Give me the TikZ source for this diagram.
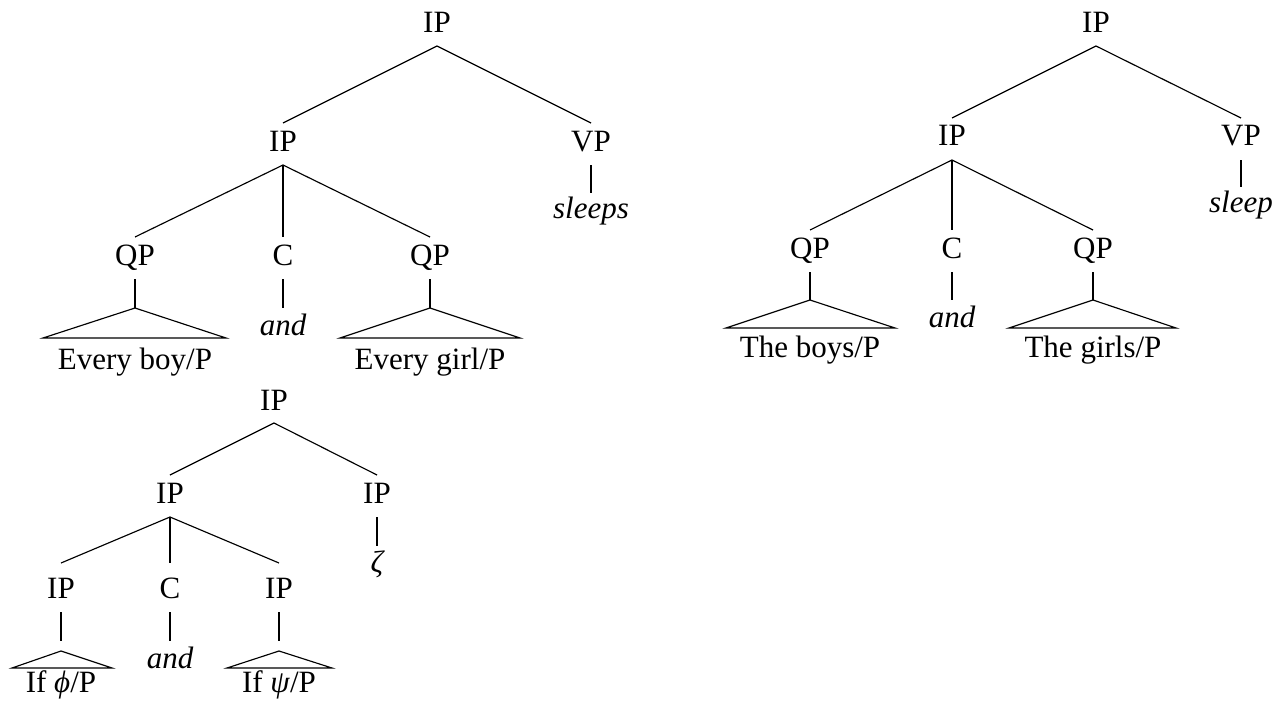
\documentclass[tikz,border=0pt]{standalone}
\usepackage{fontspec}
\setmainfont{Liberation Serif}
\begin{document}
\begin{tikzpicture}[x=1pt,y=-1pt,
  lab/.style={anchor=base,inner sep=0pt,font=\fontsize{31}{37}\selectfont},
  leaf/.style={lab,font=\fontsize{31}{37}\selectfont\itshape},
  br/.style={line width=1.15pt},
  tri/.style={line width=1.15pt,line join=miter}]
\useasboundingbox (0,0) rectangle (1282,704);

% ---------- coordination of quantified subjects ----------
\node[lab] (a0) at (437,32) {IP};
\node[lab] (a1) at (283,151) {IP};
\node[lab] (a2) at (591,151) {VP};
\node[leaf] (a3) at (591,218) {sleeps};
\node[lab] (a4) at (135,265) {QP};
\node[lab] (a5) at (283,265) {C};
\node[lab] (a6) at (430,265) {QP};
\node[leaf] (a7) at (283,335) {and};
\node[lab] (a8) at (135,369) {Every boy/P};
\node[lab] (a9) at (430,369) {Every girl/P};
\coordinate (a8t) at (135,308);
\coordinate (a9t) at (430,308);

\draw[br] ([yshift=-14pt]a0.base) -- ([yshift=28pt]a1.base);
\draw[br] ([yshift=-14pt]a0.base) -- ([yshift=28pt]a2.base);
\draw[br] ([yshift=-14pt]a2.base) -- ([yshift=25pt]a3.base);
\draw[br] ([yshift=-14pt]a1.base) -- ([yshift=28pt]a4.base);
\draw[br] ([yshift=-14pt]a1.base) -- ([yshift=28pt]a5.base);
\draw[br] ([yshift=-14pt]a1.base) -- ([yshift=28pt]a6.base);
\draw[br] ([yshift=-14pt]a5.base) -- ([yshift=27pt]a7.base);
\draw[br] ([yshift=-14pt]a4.base) -- (a8t);
\draw[br] ([yshift=-14pt]a6.base) -- (a9t);
\draw[tri] (a8t) -- (43,338) -- (226,338) -- cycle;
\draw[tri] (a9t) -- (340,338) -- (520,338) -- cycle;

% ---------- coordination of plural subjects ----------
\node[lab] (b0) at (1096,32) {IP};
\node[lab] (b1) at (952,145) {IP};
\node[lab] (b2) at (1241,145) {VP};
\node[leaf] (b3) at (1241,212) {sleep};
\node[lab] (b4) at (810,258) {QP};
\node[lab] (b5) at (952,258) {C};
\node[lab] (b6) at (1093,258) {QP};
\node[leaf] (b7) at (952,327) {and};
\node[lab] (b8) at (810,357) {The boys/P};
\node[lab] (b9) at (1093,357) {The girls/P};
\coordinate (b8t) at (810,300);
\coordinate (b9t) at (1093,300);

\draw[br] ([yshift=-14pt]b0.base) -- ([yshift=27pt]b1.base);
\draw[br] ([yshift=-14pt]b0.base) -- ([yshift=27pt]b2.base);
\draw[br] ([yshift=-15pt]b2.base) -- ([yshift=25pt]b3.base);
\draw[br] ([yshift=-15pt]b1.base) -- ([yshift=28pt]b4.base);
\draw[br] ([yshift=-15pt]b1.base) -- ([yshift=28pt]b5.base);
\draw[br] ([yshift=-15pt]b1.base) -- ([yshift=28pt]b6.base);
\draw[br] ([yshift=-14pt]b5.base) -- ([yshift=27pt]b7.base);
\draw[br] ([yshift=-14pt]b4.base) -- (b8t);
\draw[br] ([yshift=-14pt]b6.base) -- (b9t);
\draw[tri] (b8t) -- (726,328) -- (895,328) -- cycle;
\draw[tri] (b9t) -- (1009,328) -- (1176,328) -- cycle;

% ---------- conditional coordination ----------
\node[lab] (c0) at (274,410) {IP};
\node[lab] (c1) at (170,503) {IP};
\node[lab] (c2) at (377,503) {IP};
\node[leaf] (c3) at (377,572) {ζ};
\node[lab] (c4) at (61,598) {IP};
\node[lab] (c5) at (170,598) {C};
\node[lab] (c6) at (279,598) {IP};
\node[leaf] (c7) at (170,668) {and};
\node[lab] (c8) at (61,692) {If \textit{ϕ}/P};
\node[lab] (c9) at (279,692) {If \textit{ψ}/P};
\coordinate (c4e) at (61,641);
\coordinate (c6e) at (279,641);
\coordinate (c8t) at (61,651);
\coordinate (c9t) at (279,651);

\draw[br] ([yshift=-13pt]c0.base) -- ([yshift=28pt]c1.base);
\draw[br] ([yshift=-13pt]c0.base) -- ([yshift=28pt]c2.base);
\draw[br] ([yshift=-14pt]c2.base) -- ([yshift=26pt]c3.base);
\draw[br] ([yshift=-14pt]c1.base) -- ([yshift=35pt]c4.base);
\draw[br] ([yshift=-14pt]c1.base) -- ([yshift=35pt]c5.base);
\draw[br] ([yshift=-14pt]c1.base) -- ([yshift=35pt]c6.base);
\draw[br] ([yshift=-14pt]c5.base) -- ([yshift=27pt]c7.base);
\draw[br] ([yshift=-14pt]c4.base) -- (c4e);
\draw[br] ([yshift=-14pt]c6.base) -- (c6e);
\draw[tri] (c8t) -- (12,668) -- (112,668) -- cycle;
\draw[tri] (c9t) -- (227,668) -- (332,668) -- cycle;
\end{tikzpicture}
\end{document}
